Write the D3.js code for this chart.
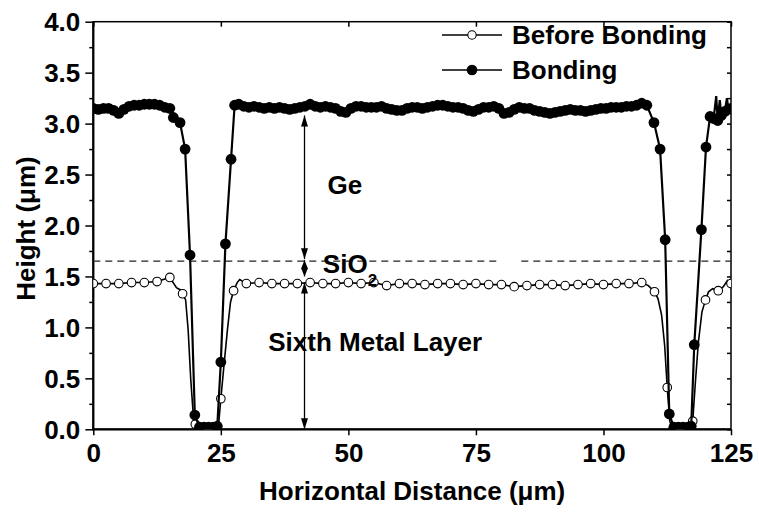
<!DOCTYPE html>
<html><head><meta charset="utf-8">
<script src="https://cdn.jsdelivr.net/npm/d3@7"></script>
<style>
body{margin:0;background:#fff}
text{font-family:"Liberation Sans",Arial,sans-serif;font-weight:bold;fill:#000}
</style>
</head><body>
<svg id="chart" width="759" height="513"></svg>
<script>
// ---- Data (µm) ----
// Before Bonding: marker points
const beforeX = [0,2.5,5,7.5,10,12.5,15,17.5,20,22.5,25,27.5,30,32.5,35,37.5,40,42.5,45,47.5,50,52.5,55,57.5,60,62.5,65,67.5,70,72.5,75,77.5,80,82.5,85,87.5,90,92.5,95,97.5,100,102.5,105,107.5,110,112.5,115,117.5,120,122.5,125];
const beforeY = [1.43,1.43,1.43,1.44,1.44,1.45,1.49,1.33,0.05,0.00,0.30,1.36,1.43,1.44,1.43,1.43,1.43,1.44,1.43,1.43,1.44,1.43,1.44,1.41,1.43,1.43,1.42,1.43,1.43,1.42,1.43,1.42,1.42,1.40,1.41,1.42,1.42,1.41,1.42,1.43,1.42,1.43,1.43,1.44,1.35,0.41,0.00,0.08,1.27,1.36,1.43];
// Before Bonding: extra profile points (line only)
const beforeLineX = [16.3,17.0,18.1,18.6,19.1,19.6,20.5,24.5,25.6,26.3,26.9,28.2,28.7,108.8,110.7,111.4,112.0,113.0,113.5,117.0,118.0,118.6,119.3,120.6,121.4,123.5,124.3];
const beforeLineY = [1.39,1.37,1.27,0.97,0.49,0.14,0.01,0.01,0.62,0.98,1.25,1.44,1.47,1.41,1.28,1.12,0.82,0.08,0.01,0.01,0.45,0.85,1.15,1.35,1.38,1.40,1.46];
// Bonding: marker points
const bondX = [0,1,2,3,4,5,6,7,8,9,10,11,12,13,14,15,15.7,17.0,18.0,18.96,19.9,20.8,21.7,22.6,23.5,24.3,25.0,25.9,27.0,27.7,
 28.5,29.5,30.5,31.5,32.5,33.5,34.5,35.5,36.5,37.5,38.5,39.5,40.5,41.5,42.5,43.5,44.5,45.5,46.5,47.5,48.5,49.5,
 50.5,51.5,52.5,53.5,54.5,55.5,56.5,57.5,58.5,59.5,60.5,61.5,62.5,63.5,64.5,65.5,66.5,67.5,68.5,69.5,
 70.5,71.5,72.5,73.5,74.5,75.5,76.5,77.5,78.5,79.5,80.5,81.5,82.5,83.5,84.5,85.5,86.5,87.5,88.5,89.5,
 90.5,91.5,92.5,93.5,94.5,95.5,96.5,97.5,98.5,99.5,100.5,101.5,102.5,103.5,104.5,105.5,106.5,107.5,108.5,
 109.9,111.1,112.1,112.9,113.8,114.7,115.6,116.5,117.2,117.8,119.2,120.1,120.9,121.6,122.4,123.1,123.8,124.5,125];
const bondY = [3.15,3.14,3.15,3.15,3.13,3.10,3.14,3.17,3.18,3.18,3.19,3.19,3.19,3.18,3.16,3.15,3.06,3.01,2.75,1.71,0.14,0.02,0.02,0.02,0.02,0.03,0.66,1.82,2.65,3.18,
 3.19,3.17,3.16,3.17,3.16,3.15,3.16,3.15,3.16,3.15,3.14,3.15,3.16,3.17,3.19,3.17,3.16,3.17,3.16,3.15,3.12,3.11,
 3.15,3.17,3.17,3.16,3.16,3.16,3.17,3.15,3.14,3.13,3.13,3.15,3.16,3.16,3.15,3.16,3.17,3.18,3.18,3.17,
 3.16,3.16,3.15,3.13,3.12,3.14,3.16,3.16,3.17,3.15,3.10,3.11,3.14,3.16,3.15,3.15,3.13,3.12,3.11,3.10,
 3.11,3.12,3.13,3.14,3.13,3.13,3.12,3.13,3.14,3.15,3.15,3.16,3.16,3.16,3.17,3.17,3.18,3.20,3.18,
 3.01,2.75,1.86,0.15,0.02,0.02,0.02,0.02,0.03,0.83,1.96,2.77,3.07,3.05,3.03,3.08,3.12,3.14,3.15];
// Bonding: spikes in the profile (line only)
const bondLineX = [122.1,122.8,124.2];
const bondLineY = [3.27,3.23,3.25];

const xTickValues = [0,25,50,75,100,125];
const yTickValues = [0,0.5,1,1.5,2,2.5,3,3.5,4];
const yMinorTicks = [0.25,0.75,1.25,1.75,2.25,2.75,3.25,3.75];
const seriesNames = ["Before Bonding","Bonding"];
const layerNames = ["Ge","SiO","Sixth Metal Layer"];
const xTitle = "Horizontal Distance (\u03bcm)";
const yTitle = "Height (\u03bcm)";
const interfaceLevel = 1.65;       // dashed SiO2/Ge interface
const metalTop = 1.44, oxideTop = 1.66, geTop = 3.08, arrowAt = 41.4;

// ---- Layout ----
const L = 93.3, R = 731, T = 21.7, B = 429.3;
const svg = d3.select("#chart");
const x = d3.scaleLinear().domain([0,125]).range([L,R]);
const y = d3.scaleLinear().domain([0,4]).range([B,T]);

svg.append("defs").append("clipPath").attr("id","clip")
  .append("rect").attr("x",L).attr("y",T).attr("width",R-L).attr("height",B-T);

// axes
const fmt = d3.format(".1f");
const gy = svg.append("g").attr("transform",`translate(${L},0)`)
  .call(d3.axisLeft(y).tickValues(yTickValues).tickSize(8).tickPadding(5).tickFormat(fmt));
svg.append("g").attr("transform",`translate(${L},0)`)
  .call(d3.axisLeft(y).tickValues(yMinorTicks).tickSize(4).tickFormat(""));
const gx = svg.append("g").attr("transform",`translate(0,${B})`)
  .call(d3.axisBottom(x).tickValues(xTickValues).tickSize(6).tickPadding(8).tickFormat(d3.format("d")));
svg.append("g").attr("transform",`translate(0,${T})`)
  .call(d3.axisBottom(x).tickValues(xTickValues).tickSize(5).tickFormat(""));
svg.append("g").attr("transform",`translate(${R},0)`)
  .call(d3.axisRight(y).tickValues(yTickValues.concat(yMinorTicks)).tickSize(-4).tickFormat(""));
svg.selectAll(".domain").remove();
svg.selectAll(".tick line").attr("stroke","#000").attr("stroke-width",1.5);
gy.selectAll("text").style("font-size","26px").attr("dy","0.35em");
gx.selectAll("text").style("font-size","26px");

// frame
svg.append("rect").attr("x",L).attr("y",T).attr("width",R-L).attr("height",B-T)
  .attr("fill","none").attr("stroke","#000").attr("stroke-width",1.5);
svg.append("line").attr("x1",L).attr("x2",L).attr("y1",T).attr("y2",B+1).attr("stroke","#000").attr("stroke-width",2.2);
svg.append("line").attr("x1",L-1).attr("x2",R).attr("y1",B).attr("y2",B).attr("stroke","#000").attr("stroke-width",2.2);

// titles
svg.append("text").attr("x",(L+R)/2).attr("y",500).attr("text-anchor","middle")
  .style("font-size","26px").text(xTitle);
svg.append("text").attr("transform",`translate(35,${(T+B)/2+3}) rotate(-90)`).attr("text-anchor","middle")
  .style("font-size","26px").text(yTitle);

// dashed interface line (with a gap)
const dashSegs = [[0,79.8],[83.9,125]];
svg.append("g").selectAll("line").data(dashSegs).join("line")
  .attr("x1",d=>x(d[0])).attr("x2",d=>x(d[1]))
  .attr("y1",y(interfaceLevel)).attr("y2",y(interfaceLevel))
  .attr("stroke","#222").attr("stroke-width",1.3).attr("stroke-dasharray","7,5");

// series
const plot = svg.append("g").attr("clip-path","url(#clip)");
const line = d3.line().x(d=>x(d[0])).y(d=>y(d[1]));
function merged(xs,ys,lx,ly){
  const pts = xs.map((v,i)=>[v,ys[i]]).concat(lx.map((v,i)=>[v,ly[i]]));
  return pts.sort((a,b)=>a[0]-b[0]);
}
const beforeLine = merged(beforeX,beforeY,beforeLineX,beforeLineY);
const bondLine = merged(bondX,bondY,bondLineX,bondLineY);

plot.append("path").datum(beforeLine).attr("d",line).attr("fill","none").attr("stroke","#000").attr("stroke-width",1.6);
plot.append("g").selectAll("circle").data(beforeX.map((v,i)=>[v,beforeY[i]])).join("circle")
  .attr("cx",d=>x(d[0])).attr("cy",d=>y(d[1])).attr("r",4.3)
  .attr("fill","#fff").attr("stroke","#000").attr("stroke-width",1.1);

plot.append("path").datum(bondLine).attr("d",line).attr("fill","none").attr("stroke","#000").attr("stroke-width",2.2);
plot.append("g").selectAll("circle").data(bondX.map((v,i)=>[v,bondY[i]])).join("circle")
  .attr("cx",d=>x(d[0])).attr("cy",d=>y(d[1])).attr("r",5.4).attr("fill","#000");

// arrows
const ax = x(arrowAt);
function head(tipY, dir, len){ // dir=1 points down, -1 points up
  const b = tipY - dir*len;
  return `M${ax},${tipY}L${ax-3.5},${b}L${ax+3.5},${b}Z`;
}
const arrows = [[geTop, interfaceLevel+0.02, 11],[oxideTop, 1.50, 8.5],[metalTop, 0, 11]];
const ag = svg.append("g");
arrows.forEach(([top,bot,len])=>{
  ag.append("line").attr("x1",ax).attr("x2",ax).attr("y1",y(top)).attr("y2",y(bot))
    .attr("stroke","#000").attr("stroke-width",1.3);
  ag.append("path").attr("d",head(y(top),-1,len)).attr("fill","#000");
  ag.append("path").attr("d",head(y(bot),1,len)).attr("fill","#000");
});

// layer labels
svg.append("text").attr("x",x(45.9)).attr("y",y(2.31)).style("font-size","26px").text(layerNames[0]);
const sio = svg.append("text").attr("x",x(45.0)).attr("y",y(1.53)).style("font-size","26px");
sio.append("tspan").text(layerNames[1]);
sio.append("tspan").attr("dy",13).style("font-size","17px").text("2");
svg.append("text").attr("x",x(34.3)).attr("y",y(0.77)).style("font-size","26px").text(layerNames[2]);

// legend
const leg = svg.append("g");
const legRows = [{y:35,fill:"#fff",r:4.2},{y:70,fill:"#000",r:4.8}];
legRows.forEach((row,i)=>{
  leg.append("line").attr("x1",442).attr("x2",502).attr("y1",row.y).attr("y2",row.y)
    .attr("stroke","#000").attr("stroke-width",1.6);
  leg.append("circle").attr("cx",472).attr("cy",row.y).attr("r",row.r)
    .attr("fill",row.fill).attr("stroke","#000").attr("stroke-width",1.1);
  leg.append("text").attr("x",512).attr("y",row.y+8.7).style("font-size","26px").text(seriesNames[i]);
});
</script>
</body></html>
